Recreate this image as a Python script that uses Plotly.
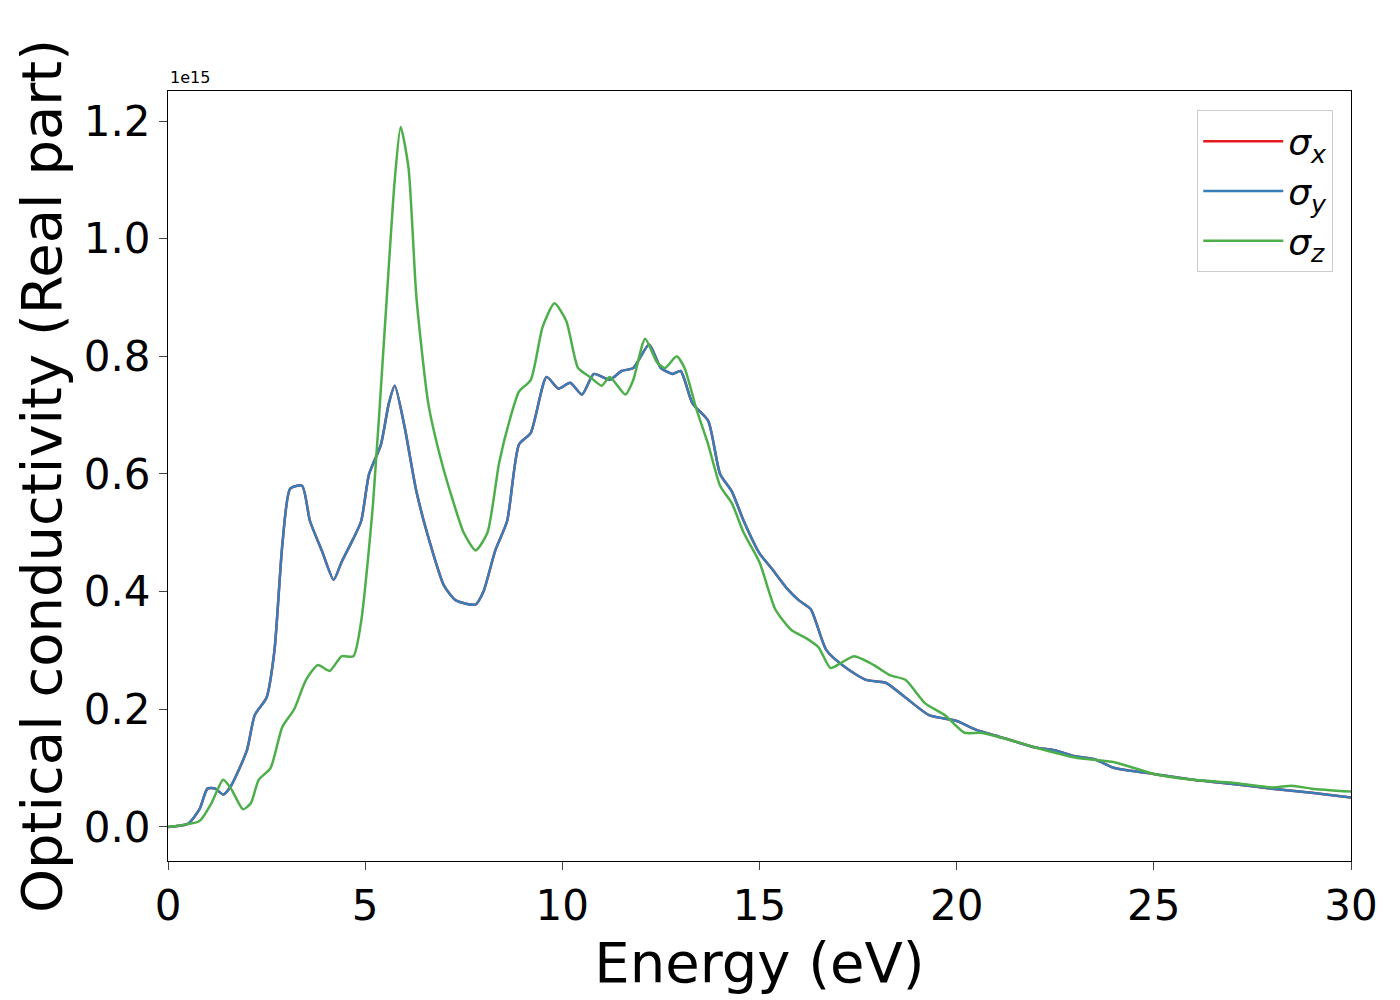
import plotly.graph_objects as go

E_xy = [0,0.5,0.8,1.0,1.2,1.4,1.6,2.0,2.2,2.5,2.7,2.9,3.1,3.4,3.6,3.9,4.2,4.4,4.7,4.9,5.1,5.4,5.6,5.75,6.0,6.3,6.7,7.0,7.3,7.8,8.0,8.3,8.6,8.9,9.2,9.6,9.9,10.2,10.5,10.8,11.2,11.5,11.8,12.2,12.5,12.8,13.0,13.3,13.7,14.0,14.3,14.6,15.0,15.3,15.7,16.0,16.3,16.7,17.2,17.7,18.2,18.7,19.3,20.0,20.5,21.0,22.0,22.5,23.0,23.5,24.0,25.0,26.0,27.0,28.0,29.0,30.0]
sigma_xy = [0,0.005,0.03,0.065,0.065,0.055,0.07,0.13,0.19,0.22,0.3,0.48,0.575,0.58,0.52,0.47,0.42,0.45,0.49,0.52,0.6,0.65,0.72,0.75,0.68,0.57,0.47,0.41,0.385,0.378,0.40,0.47,0.52,0.65,0.67,0.765,0.745,0.755,0.735,0.77,0.76,0.775,0.78,0.82,0.78,0.77,0.775,0.72,0.69,0.6,0.57,0.52,0.465,0.44,0.405,0.385,0.37,0.3,0.27,0.25,0.245,0.22,0.19,0.18,0.165,0.155,0.135,0.13,0.12,0.115,0.1,0.09,0.08,0.073,0.065,0.058,0.05]

E_z = [0,0.8,1.1,1.4,1.6,1.9,2.1,2.3,2.6,2.9,3.2,3.5,3.8,4.1,4.4,4.7,4.9,5.2,5.5,5.75,5.9,6.1,6.3,6.6,6.9,7.2,7.5,7.8,8.1,8.4,8.7,8.9,9.2,9.5,9.8,10.1,10.4,10.7,11.0,11.2,11.6,11.8,12.1,12.4,12.6,12.9,13.1,13.4,13.7,14.0,14.3,14.6,15.0,15.4,15.8,16.2,16.5,16.8,17.1,17.4,17.9,18.3,18.7,19.2,19.7,20.2,20.6,21.5,22.0,23.0,24.0,25.0,26.0,27.0,28.0,28.5,29.0,30.0]
sigma_z = [0,0.01,0.04,0.08,0.065,0.03,0.04,0.08,0.1,0.17,0.2,0.25,0.275,0.265,0.29,0.29,0.35,0.55,0.85,1.1,1.19,1.12,0.9,0.72,0.63,0.56,0.5,0.47,0.5,0.62,0.7,0.74,0.76,0.85,0.89,0.86,0.78,0.765,0.75,0.765,0.735,0.76,0.83,0.79,0.78,0.8,0.78,0.71,0.65,0.58,0.55,0.5,0.45,0.37,0.335,0.32,0.305,0.27,0.28,0.29,0.275,0.258,0.25,0.21,0.19,0.16,0.16,0.145,0.135,0.118,0.11,0.09,0.08,0.075,0.067,0.07,0.065,0.06]

scale = 1e15
fig = go.Figure()
fig.add_trace(go.Scatter(x=E_xy, y=[v*scale for v in sigma_xy], mode="lines", name="<i>σ<sub>x</sub></i>",
                         line=dict(color="#e41a1c", width=2.5, shape="spline", smoothing=0.6)))
fig.add_trace(go.Scatter(x=E_xy, y=[v*scale for v in sigma_xy], mode="lines", name="<i>σ<sub>y</sub></i>",
                         line=dict(color="#377eb8", width=2.5, shape="spline", smoothing=0.6)))
fig.add_trace(go.Scatter(x=E_z, y=[v*scale for v in sigma_z], mode="lines", name="<i>σ<sub>z</sub></i>",
                         line=dict(color="#4daf4a", width=2.5, shape="spline", smoothing=0.6)))

fig.update_layout(
    width=1400, height=1000, plot_bgcolor="white", paper_bgcolor="white",
    margin=dict(l=160, r=57, t=83, b=147),
    font=dict(family="DejaVu Sans", color="black"),
    legend=dict(x=0.985, y=0.975, xanchor="right", yanchor="top", bgcolor="white",
                bordercolor="#cccccc", borderwidth=1, font=dict(size=36), itemwidth=80,
                tracegroupgap=4),
    xaxis=dict(range=[0,30], tickvals=[0,5,10,15,20,25,30], ticks="outside", ticklen=8,
               tickfont=dict(size=42), showgrid=False, zeroline=False, showline=True,
               linecolor="black", mirror=True,
               title=dict(text="Energy (eV)", font=dict(size=56), standoff=2)),
    yaxis=dict(range=[-0.058*scale, 1.251*scale], tickvals=[i*0.2*scale for i in range(7)],
               ticktext=["0.0","0.2","0.4","0.6","0.8","1.0","1.2"], ticks="outside", ticklen=8,
               tickfont=dict(size=42), showgrid=False, zeroline=False, showline=True,
               linecolor="black", mirror=True,
               title=dict(text="Optical conductivity (Real part)", font=dict(size=56), standoff=4)),
    annotations=[dict(text="1e15", x=0, y=1.0, xref="paper", yref="paper", xanchor="left",
                      yanchor="bottom", showarrow=False, font=dict(size=16), yshift=2)],
)
fig.write_html("out.html")
